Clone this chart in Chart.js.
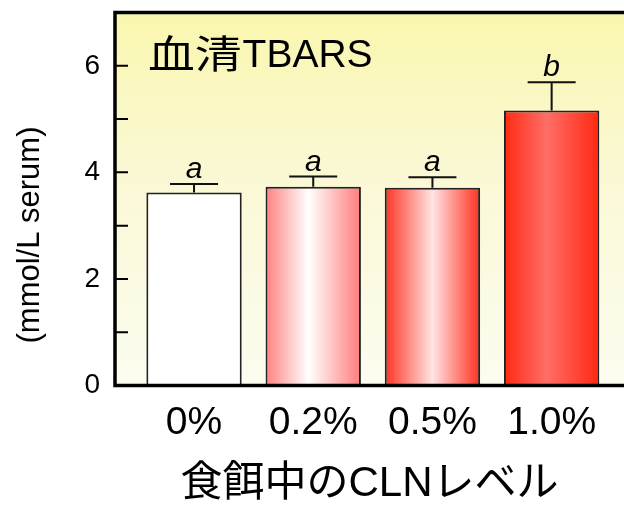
<!DOCTYPE html>
<html>
<head>
<meta charset="utf-8">
<script src="https://cdn.jsdelivr.net/npm/chart.js@4.4.0/dist/chart.umd.min.js"></script>
<style>
  html, body { margin: 0; padding: 0; background: #fff; overflow: hidden; }
</style>
</head>
<body>
<canvas id="chart" width="624" height="505"></canvas>
<script>
// data
const levels = ['0%', '0.2%', '0.5%', '1.0%'];
const tbars = [3.62, 3.73, 3.71, 5.16];
const sem = [0.16, 0.19, 0.20, 0.53];
const groups = ['a', 'a', 'a', 'b'];
const yLabels = [0, 2, 4, 6];

// styles
const FONT = '"Liberation Sans", Arial, "Noto Sans CJK JP", sans-serif';
const barStops = [
  [[0, '#ffffff'], [1, '#ffffff']],
  [[0, '#ff8181'], [0.45, '#ffffff'], [1, '#ff7c7c']],
  [[0, '#ff3322'], [0.5, '#ffe4e4'], [1, '#ff3020']],
  [[0, '#ff2a12'], [0.45, '#ff6e68'], [1, '#ff2812']]
];

const framePlugin = {
  id: 'frame',
  beforeDraw(chart) {
    const ctx = chart.ctx, a = chart.chartArea;
    const g = ctx.createLinearGradient(0, a.top, 0, a.bottom);
    g.addColorStop(0, '#f9f7ad');
    g.addColorStop(0.4, '#faf8d2');
    g.addColorStop(1, '#fcfcf0');
    ctx.save();
    ctx.fillStyle = g;
    ctx.fillRect(a.left, a.top, a.right - a.left, a.bottom - a.top);
    ctx.restore();
  },
  beforeDatasetsDraw(chart) {
    const ctx = chart.ctx;
    chart.getDatasetMeta(0).data.forEach((el, i) => {
      const g = ctx.createLinearGradient(el.x - el.width / 2, 0, el.x + el.width / 2, 0);
      barStops[i].forEach(s => g.addColorStop(s[0], s[1]));
      el.options = Object.assign({}, el.options, { backgroundColor: g });
    });
  },
  afterDatasetsDraw(chart) {
    const ctx = chart.ctx, y = chart.scales.y;
    ctx.save();
    ctx.strokeStyle = '#111';
    ctx.fillStyle = '#000';
    ctx.lineWidth = 2;
    ctx.font = 'italic 30px ' + FONT;
    ctx.textAlign = 'center';
    ctx.textBaseline = 'alphabetic';
    chart.getDatasetMeta(0).data.forEach((el, i) => {
      const top = y.getPixelForValue(tbars[i] + sem[i]);
      ctx.beginPath();
      ctx.moveTo(el.x, el.y);
      ctx.lineTo(el.x, top);
      ctx.moveTo(el.x - 24, top);
      ctx.lineTo(el.x + 24, top);
      ctx.stroke();
      ctx.fillText(groups[i], el.x, top - 6);
    });
    ctx.restore();
  },
  afterDraw(chart) {
    const ctx = chart.ctx, a = chart.chartArea, y = chart.scales.y;
    ctx.save();
    ctx.strokeStyle = '#000';
    // inward tick marks
    ctx.lineWidth = 2;
    ctx.beginPath();
    for (let v = 1; v < 7; v++) {
      const py = y.getPixelForValue(v);
      ctx.moveTo(a.left, py);
      ctx.lineTo(a.left + 13, py);
    }
    ctx.stroke();
    // frame
    ctx.lineWidth = 3.5;
    ctx.beginPath();
    ctx.moveTo(a.right + 2, a.top);
    ctx.lineTo(a.left, a.top);
    ctx.lineTo(a.left, a.bottom);
    ctx.lineTo(a.right + 2, a.bottom);
    ctx.stroke();
    // panel title: wide CJK part, then Latin part
    ctx.fillStyle = '#000';
    ctx.textAlign = 'left';
    ctx.textBaseline = 'alphabetic';
    const tx = a.left + 33, ty = a.top + 54;
    ctx.save();
    ctx.translate(tx, ty);
    ctx.scale(1.2, 1);
    ctx.font = '39px "Noto Sans CJK JP", sans-serif';
    const cjkW = ctx.measureText('血清').width * 1.2;
    ctx.fillText('血清', 0, 1);
    ctx.restore();
    ctx.font = '39px ' + FONT;
    ctx.fillText('TBARS', tx + cjkW + 1, ty);
    // y axis title
    ctx.font = '31px ' + FONT;
    ctx.textAlign = 'center';
    ctx.textBaseline = 'middle';
    ctx.translate(30, 235);
    ctx.rotate(-Math.PI / 2);
    ctx.fillText('(mmol/L serum)', 0, 0);
    ctx.restore();
  }
};

const data = {
  datasets: [{
    label: '血清TBARS',
    data: tbars.map((v, i) => ({ x: i, y: v })),
    borderColor: '#222',
    borderWidth: 2,
    categoryPercentage: 1,
    barPercentage: 0.8
  }]
};

const config = {
  type: 'bar',
  data: data,
  options: {
    responsive: false,
    animation: false,
    layout: { padding: { top: 12.5, left: 0, right: 0, bottom: 0 } },
    plugins: { legend: { display: false }, tooltip: { enabled: false } },
    scales: {
      x: {
        type: 'linear',
        offset: false,
        min: -0.663,
        max: 3.607,
        afterBuildTicks: function(s) {
          s.ticks = levels.map((_, i) => ({ value: i }));
        },
        afterFit: function(s) {
          s.height = 119.5;
          s.paddingLeft = 0;
          s.paddingRight = 0;
        },
        grid: { display: false, drawTicks: false, offset: false },
        border: { display: false },
        ticks: {
          autoSkip: false,
          maxRotation: 0,
          padding: 14,
          color: '#000',
          font: { family: FONT, size: 39 },
          callback: function(v) { return levels[v] !== undefined ? levels[v] : ''; }
        },
        title: {
          display: true,
          text: '食餌中のCLNレベル',
          color: '#000',
          font: { family: FONT, size: 42, lineHeight: 1.0 },
          padding: 0
        }
      },
      y: {
        min: 0,
        max: 7,
        afterFit: function(s) {
          s.width = 115;
          s.paddingTop = 0;
          s.paddingBottom = 0;
        },
        grid: { display: false, drawTicks: false },
        border: { display: false },
        ticks: {
          stepSize: 1,
          padding: 15,
          color: '#000',
          font: { family: FONT, size: 28 },
          callback: function(v) { return yLabels.includes(v) ? v : ''; }
        }
      }
    }
  },
  plugins: [framePlugin]
};

const myChart = new Chart(document.getElementById('chart'), config);
</script>
</body>
</html>
